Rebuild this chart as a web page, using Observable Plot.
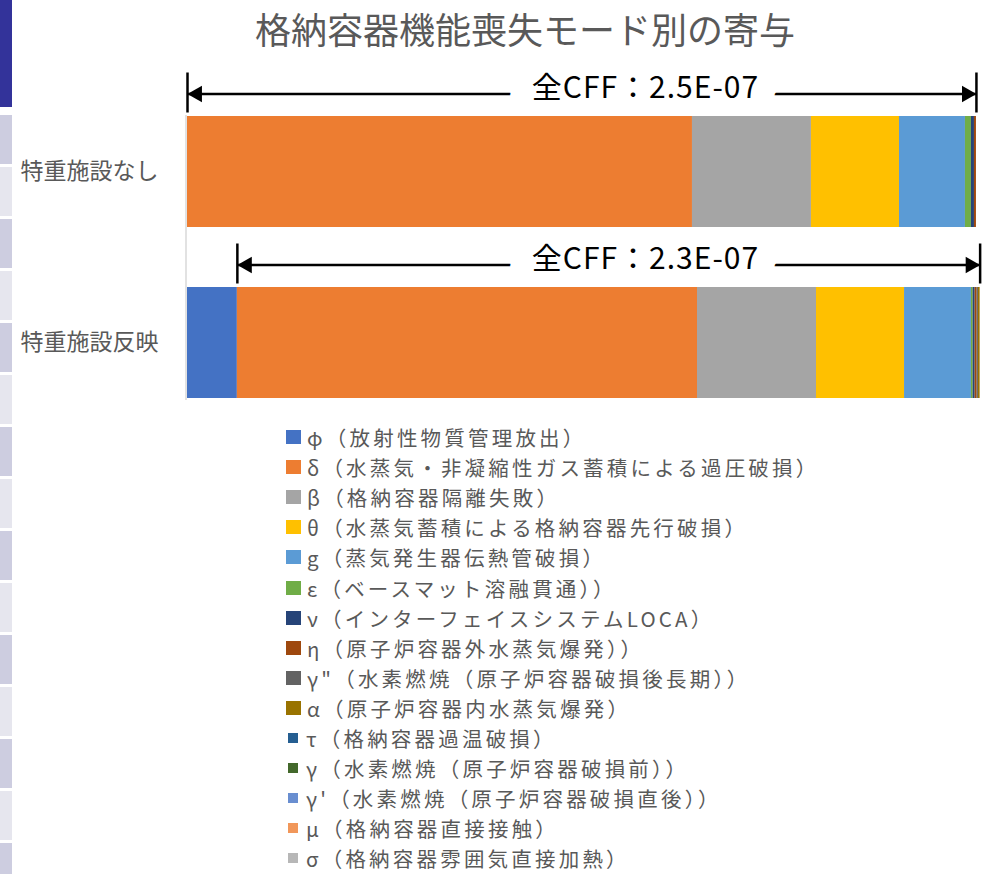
<!DOCTYPE html>
<html>
<head>
<meta charset="utf-8">
<script src="https://cdn.jsdelivr.net/npm/d3@7"></script>
<script src="https://cdn.jsdelivr.net/npm/@observablehq/plot@0.6"></script>
<style>
  html, body { margin: 0; padding: 0; background: #fff; }
  body { width: 987px; height: 874px; position: relative; overflow: hidden;
         font-family: "Noto Sans CJK JP", "Noto Sans", sans-serif; }
  #stripTop { position: absolute; left: 0; top: 0; width: 12px; height: 107px; background: #33339A; }
  #stripRows { position: absolute; left: 0; top: 115px; width: 12px; height: 759px;
    background: repeating-linear-gradient(to bottom,
      #CDCDE0 0px, #CDCDE0 49px, #fff 49px, #fff 52px,
      #E6E6EE 52px, #E6E6EE 101px, #fff 101px, #fff 104px); }
  #title { position: absolute; top: 8px; left: 525px; transform: translateX(-50%);
           font-size: 36px; line-height: 40px; color: #595959; white-space: nowrap; }
  #chart { position: absolute; top: 60px; left: 0; }
  #legend { position: absolute; left: 286px; top: 422px; }
  .row { display: flex; align-items: center; height: 30.1px; white-space: nowrap; }
  .sw { flex: none; width: 15px; height: 14px; margin-right: 6px; }
  .sw.small { width: 10px; height: 10px; margin-left: 2px; margin-right: 8px; }
  .lab { display: inline-block; height: 26px; font-size: 20.5px; line-height: 26px;
         letter-spacing: 3.2px; color: #595959; }
</style>
</head>
<body>
<div id="stripTop"></div>
<div id="stripRows"></div>
<div id="title">格納容器機能喪失モード別の寄与</div>
<div id="chart"></div>
<div id="legend"></div>
<script>
// ---- data (contributions in units of 1E-07) ----
const cases = ["特重施設なし", "特重施設反映"];
const modes = ["φ", "δ", "β", "θ", "g", "ε", "ν", "η", "γ''", "α", "τ", "γ", "γ'", "μ", "σ"];
const modeLabels = [
  "φ（放射性物質管理放出）",
  "δ（水蒸気・非凝縮性ガス蓄積による過圧破損）",
  "β（格納容器隔離失敗）",
  "θ（水蒸気蓄積による格納容器先行破損）",
  "g（蒸気発生器伝熱管破損）",
  "ε（ベースマット溶融貫通））",
  "ν（インターフェイスシステムLOCA）",
  "η（原子炉容器外水蒸気爆発））",
  "γ\"（水素燃焼（原子炉容器破損後長期））",
  "α（原子炉容器内水蒸気爆発）",
  "τ（格納容器過温破損）",
  "γ（水素燃焼（原子炉容器破損前））",
  "γ'（水素燃焼（原子炉容器破損直後））",
  "μ（格納容器直接接触）",
  "σ（格納容器雰囲気直接加熱）"
];
const modeColors = ["#4472C4", "#ED7D31", "#A5A5A5", "#FFC000", "#5B9BD5", "#70AD47", "#264478",
                    "#9E480E", "#636363", "#997300", "#255E91", "#43682B", "#698ED0", "#F1975A", "#B7B7B7"];
const valuesWithout = [0, 1.600, 0.377, 0.279, 0.209, 0.019, 0.0095, 0.0063, 0, 0, 0, 0, 0, 0, 0];
const valuesWith    = [0.158, 1.458, 0.377, 0.279, 0.212, 0.0054, 0.0063, 0.0063, 0.0041, 0.0054, 0, 0, 0, 0, 0];
const totalLabels = ["全CFF：2.5E-07", "全CFF：2.3E-07"];

// ---- derived tables ----
const seriesValues = [valuesWithout, valuesWith];
const rows = cases.flatMap((c, i) =>
  modes.map((m, j) => ({case: c, mode: m, value: seriesValues[i][j]})).filter(d => d.value > 0));
const arrows = cases.map((c, i) => ({
  case: c,
  start: seriesValues[i][0],               // CFF excludes φ
  end: d3.sum(seriesValues[i]),
  label: totalLabels[i]
}));

const font = "'Noto Sans CJK JP', 'Noto Sans', sans-serif";
const lineDy = -78, textDy = -84;

const chart = Plot.plot({
  width: 987, height: 362,
  marginTop: 55, marginBottom: 22, marginLeft: 20, marginRight: 7,
  style: {fontFamily: font, background: "transparent", overflow: "visible"},
  x: {domain: [0, 2.5], range: [187, 976], axis: null},
  y: {domain: cases, range: [26, 368], paddingInner: 60 / 171, paddingOuter: 30 / 171, axis: null},
  color: {domain: modes, range: modeColors},
  marks: [
    Plot.ruleX([0], {stroke: "#D9D9D9", strokeWidth: 1.5, dx: -1.5}),
    Plot.link(arrows, {x1: "start", x2: "end", y1: "case", y2: "case", dy: lineDy, stroke: "black", strokeWidth: 2.6}),
    Plot.text(arrows, {y: "case", text: "label", frameAnchor: "middle", dx: 145, dy: textDy,
      fontSize: 30, fill: "black", stroke: "white", strokeWidth: 48}),
    Plot.tickX(arrows, {x: "start", y: "case", dy: -43.5, insetBottom: 71, stroke: "black", strokeWidth: 2.5}),
    Plot.tickX(arrows, {x: "end", y: "case", dy: -43.5, insetBottom: 71, stroke: "black", strokeWidth: 2.5}),
    Plot.dot(arrows, {x: "start", y: "case", symbol: "triangle", r: 6.2, rotate: -90, dx: 9.6, dy: lineDy, fill: "black", stroke: null}),
    Plot.dot(arrows, {x: "end", y: "case", symbol: "triangle", r: 6.2, rotate: 90, dx: -9.6, dy: lineDy, fill: "black", stroke: null}),
    Plot.barX(rows, Plot.stackX({x: "value", y: "case", fill: "mode", order: modes})),
    Plot.text(cases, {y: d => d, text: d => d, frameAnchor: "left", textAnchor: "start",
      fontSize: 23, fill: "#595959"})
  ]
});
chart.querySelectorAll("text").forEach(t => {
  if (t.textContent.startsWith("全")) t.style.letterSpacing = "1px";
});
document.getElementById("chart").appendChild(chart);

// ---- legend ----
const totals = modes.map((m, j) => d3.sum(seriesValues, s => s[j]));
const legend = document.getElementById("legend");
modes.forEach((m, j) => {
  const row = document.createElement("div");
  row.className = "row";
  const sw = document.createElement("span");
  sw.className = "sw" + (totals[j] > 0 ? "" : " small");
  sw.style.background = modeColors[j];
  const lab = document.createElement("span");
  lab.className = "lab";
  lab.textContent = modeLabels[j];
  row.appendChild(sw);
  row.appendChild(lab);
  legend.appendChild(row);
});
</script>
</body>
</html>
